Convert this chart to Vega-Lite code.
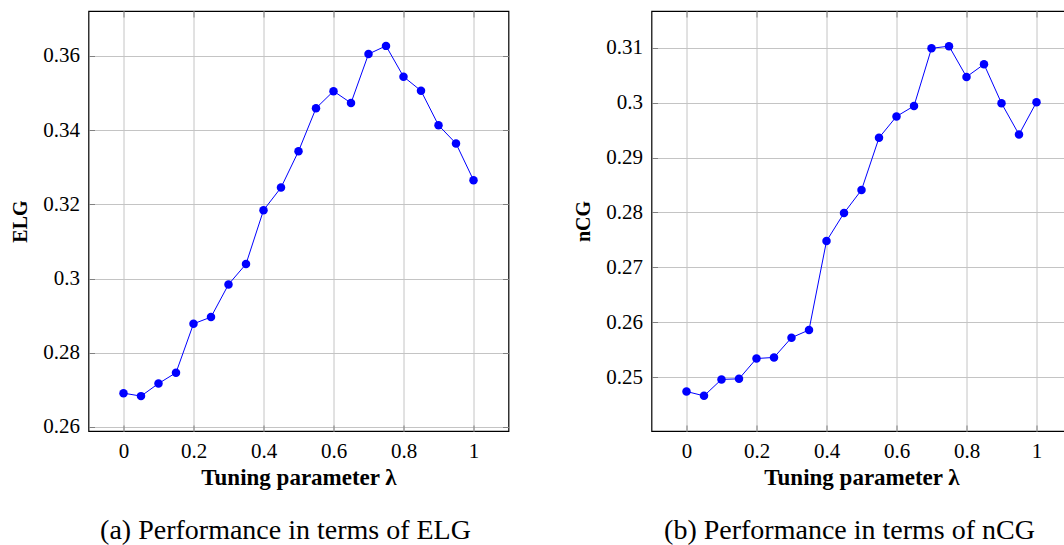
{
  "$schema": "https://vega.github.io/schema/vega-lite/v6.json",
  "padding": {"left": 9.5, "top": 9, "right": 0, "bottom": 0},
  "background": "white",
  "datasets": {
    "elg": [
      {"lambda": 0.0, "value": 0.2691},
      {"lambda": 0.05, "value": 0.2683},
      {"lambda": 0.1, "value": 0.2717},
      {"lambda": 0.15, "value": 0.2746},
      {"lambda": 0.2, "value": 0.2878},
      {"lambda": 0.25, "value": 0.2896},
      {"lambda": 0.3, "value": 0.2984},
      {"lambda": 0.35, "value": 0.3039},
      {"lambda": 0.4, "value": 0.3184},
      {"lambda": 0.45, "value": 0.3245},
      {"lambda": 0.5, "value": 0.3343},
      {"lambda": 0.55, "value": 0.3459},
      {"lambda": 0.6, "value": 0.3505},
      {"lambda": 0.65, "value": 0.3473},
      {"lambda": 0.7, "value": 0.3605},
      {"lambda": 0.75, "value": 0.3627},
      {"lambda": 0.8, "value": 0.3544},
      {"lambda": 0.85, "value": 0.3506},
      {"lambda": 0.9, "value": 0.3413},
      {"lambda": 0.95, "value": 0.3364},
      {"lambda": 1.0, "value": 0.3265}
    ],
    "ncg": [
      {"lambda": 0.0, "value": 0.2474},
      {"lambda": 0.05, "value": 0.2466},
      {"lambda": 0.1, "value": 0.2496},
      {"lambda": 0.15, "value": 0.2497},
      {"lambda": 0.2, "value": 0.2534},
      {"lambda": 0.25, "value": 0.2536},
      {"lambda": 0.3, "value": 0.2572},
      {"lambda": 0.35, "value": 0.2586},
      {"lambda": 0.4, "value": 0.2748},
      {"lambda": 0.45, "value": 0.2799},
      {"lambda": 0.5, "value": 0.2841},
      {"lambda": 0.55, "value": 0.2936},
      {"lambda": 0.6, "value": 0.2975},
      {"lambda": 0.65, "value": 0.2994},
      {"lambda": 0.7, "value": 0.3099},
      {"lambda": 0.75, "value": 0.3103},
      {"lambda": 0.8, "value": 0.3047},
      {"lambda": 0.85, "value": 0.3070},
      {"lambda": 0.9, "value": 0.2999},
      {"lambda": 0.95, "value": 0.2942},
      {"lambda": 1.0, "value": 0.3001}
    ]
  },
  "spacing": 62,
  "hconcat": [
    {
      "width": 420,
      "height": 420,
      "data": {"name": "elg"},
      "title": {"text": "(a) Performance in terms of ELG", "orient": "bottom", "frame": "group", "anchor": "middle", "dx": -13, "offset": 28, "baseline": "top"},
      "resolve": {"axis": {"x": "independent", "y": "independent"}},
      "layer": [
        {
          "mark": {"type": "line", "color": "#0000ff", "strokeWidth": 1},
          "encoding": {
            "x": {"field": "lambda", "type": "quantitative", "scale": {"domain": [-0.1, 1.1], "nice": false, "zero": false},
                  "axis": {"orient": "bottom", "title": "Tuning parameter λ", "values": [0, 0.2, 0.4, 0.6, 0.8, 1], "format": ".1~f", "grid": true, "tickSize": -6}},
            "y": {"field": "value", "type": "quantitative", "scale": {"domain": [0.2589, 0.3721], "nice": false, "zero": false},
                  "axis": {"orient": "left", "title": "ELG", "values": [0.26, 0.28, 0.3, 0.32, 0.34, 0.36], "format": ".2~f", "grid": true, "tickSize": -6}}
          }
        },
        {
          "mark": {"type": "point", "shape": "circle", "filled": true, "color": "#0000ff", "opacity": 1, "size": 72},
          "encoding": {
            "x": {"field": "lambda", "type": "quantitative",
                  "axis": {"orient": "top", "title": null, "labels": false, "domain": false, "grid": false, "values": [0, 0.2, 0.4, 0.6, 0.8, 1], "tickSize": -6}},
            "y": {"field": "value", "type": "quantitative",
                  "axis": {"orient": "right", "title": null, "labels": false, "domain": false, "grid": false, "values": [0.26, 0.28, 0.3, 0.32, 0.34, 0.36], "tickSize": -6}}
          }
        }
      ]
    },
    {
      "width": 420,
      "height": 420,
      "data": {"name": "ncg"},
      "title": {"text": "(b) Performance in terms of nCG", "orient": "bottom", "frame": "group", "anchor": "middle", "dx": -12, "offset": 28, "baseline": "top"},
      "resolve": {"axis": {"x": "independent", "y": "independent"}},
      "layer": [
        {
          "mark": {"type": "line", "color": "#0000ff", "strokeWidth": 1},
          "encoding": {
            "x": {"field": "lambda", "type": "quantitative", "scale": {"domain": [-0.1, 1.1], "nice": false, "zero": false},
                  "axis": {"orient": "bottom", "title": "Tuning parameter λ", "values": [0, 0.2, 0.4, 0.6, 0.8, 1], "format": ".1~f", "grid": true, "tickSize": -6}},
            "y": {"field": "value", "type": "quantitative", "scale": {"domain": [0.2402, 0.3167], "nice": false, "zero": false},
                  "axis": {"orient": "left", "title": "nCG", "values": [0.25, 0.26, 0.27, 0.28, 0.29, 0.3, 0.31], "format": ".2~f", "grid": true, "tickSize": -6}}
          }
        },
        {
          "mark": {"type": "point", "shape": "circle", "filled": true, "color": "#0000ff", "opacity": 1, "size": 72},
          "encoding": {
            "x": {"field": "lambda", "type": "quantitative",
                  "axis": {"orient": "top", "title": null, "labels": false, "domain": false, "grid": false, "values": [0, 0.2, 0.4, 0.6, 0.8, 1], "tickSize": -6}},
            "y": {"field": "value", "type": "quantitative",
                  "axis": {"orient": "right", "title": null, "labels": false, "domain": false, "grid": false, "values": [0.25, 0.26, 0.27, 0.28, 0.29, 0.3, 0.31], "tickSize": -6}}
          }
        }
      ]
    }
  ],
  "config": {
    "font": "Liberation Serif",
    "view": {"stroke": "#000000", "strokeWidth": 1.2},
    "axis": {
      "domain": false,
      "gridColor": "#c4c4c4",
      "gridWidth": 1,
      "gridOpacity": 1,
      "tickColor": "#808080",
      "tickWidth": 1,
      "labelFont": "Liberation Serif",
      "labelFontSize": 21,
      "labelColor": "#000000",
      "labelPadding": 15,
      "titleFont": "Liberation Serif",
      "titleFontSize": 23,
      "titleFontWeight": "bold",
      "titleColor": "#000000",
      "titlePadding": 5
    },
    "axisY": {"titleFontSize": 20, "titlePadding": 12},
    "title": {"font": "Liberation Serif", "fontSize": 28, "fontWeight": "normal", "color": "#000000"}
  }
}
